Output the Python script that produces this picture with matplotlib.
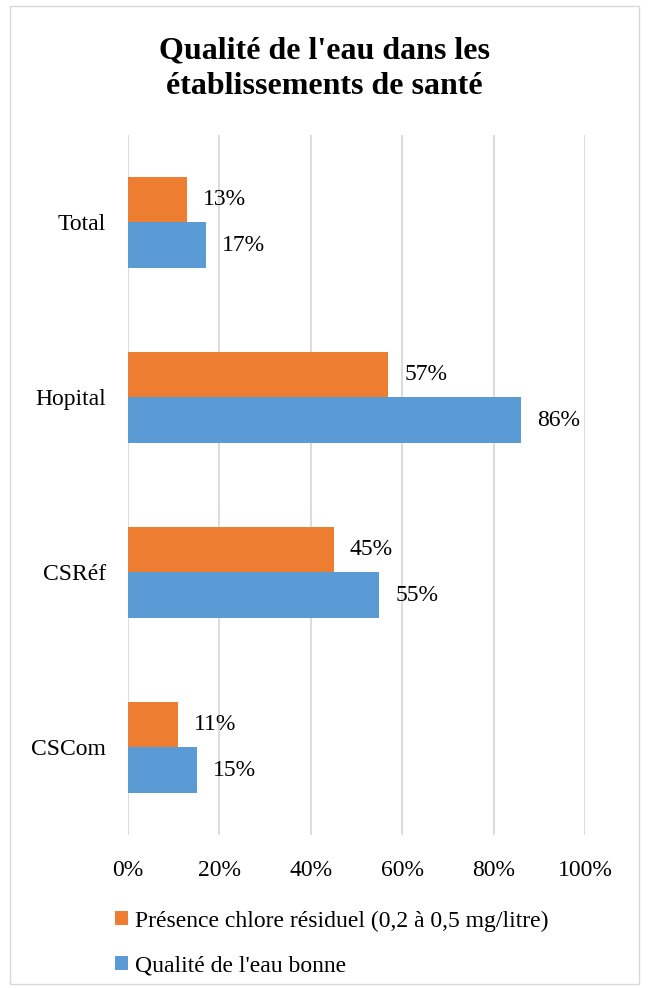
import numpy as np
import matplotlib.pyplot as plt
from matplotlib.patches import Rectangle

categories = ["CSCom", "CSRéf", "Hopital", "Total"]
chlore = [11, 45, 57, 13]
qualite = [15, 55, 86, 17]
label_chlore = "Présence chlore résiduel (0,2 à 0,5 mg/litre)"
label_qualite = "Qualité de l'eau bonne"
title = "Qualité de l'eau dans les\nétablissements de santé"

orange = "#ED7D31"
blue = "#5B9BD5"
grid_col = "#D9D9D9"

plt.rcParams['font.family'] = ['Liberation Serif', 'DejaVu Serif']

fig = plt.figure(figsize=(6.49, 9.88), dpi=100)
ax = fig.add_axes([0.1972, 0.1549, 0.7042, 0.7085])

# outer chart border
fig.patches.append(Rectangle((0.016, 0.004), 0.969, 0.99, transform=fig.transFigure,
                             fill=False, edgecolor="#D9D9D9", linewidth=1))

y = np.arange(len(categories))
h = 0.262
ax.barh(y + h / 2, chlore, height=h, color=orange, label=label_chlore, zorder=3)
ax.barh(y - h / 2, qualite, height=h, color=blue, label=label_qualite, zorder=3)

fs = 17
for yi, v in zip(y, chlore):
    ax.annotate(f"{v}%", (v, yi + h / 2), xytext=(11.5, 0), textcoords="offset points",
                va="center", ha="left", fontsize=fs)
for yi, v in zip(y, qualite):
    ax.annotate(f"{v}%", (v, yi - h / 2), xytext=(11.5, 0), textcoords="offset points",
                va="center", ha="left", fontsize=fs)

ax.set_xlim(0, 100)
ax.set_ylim(-0.5, 3.5)
ax.set_xticks(np.arange(0, 101, 20))
ax.set_xticklabels([f"{t}%" for t in range(0, 101, 20)], fontsize=fs)
ax.set_yticks(y)
ax.set_yticklabels(categories, fontsize=fs)
ax.tick_params(axis="both", length=0)
ax.tick_params(axis="y", pad=16)
ax.tick_params(axis="x", pad=18)
ax.grid(axis="x", color=grid_col, linewidth=1.3, zorder=0)
for s in ax.spines.values():
    s.set_visible(False)

fig.suptitle(title, fontsize=23, fontweight="bold", y=0.963, linespacing=1.3)

fig.legend(loc="upper left", bbox_to_anchor=(0.145, 0.1), frameon=False, fontsize=fs,
           handlelength=0.55, handleheight=0.55, handletextpad=0.3, labelspacing=1.02)

fig.savefig("out.png", dpi=100)
